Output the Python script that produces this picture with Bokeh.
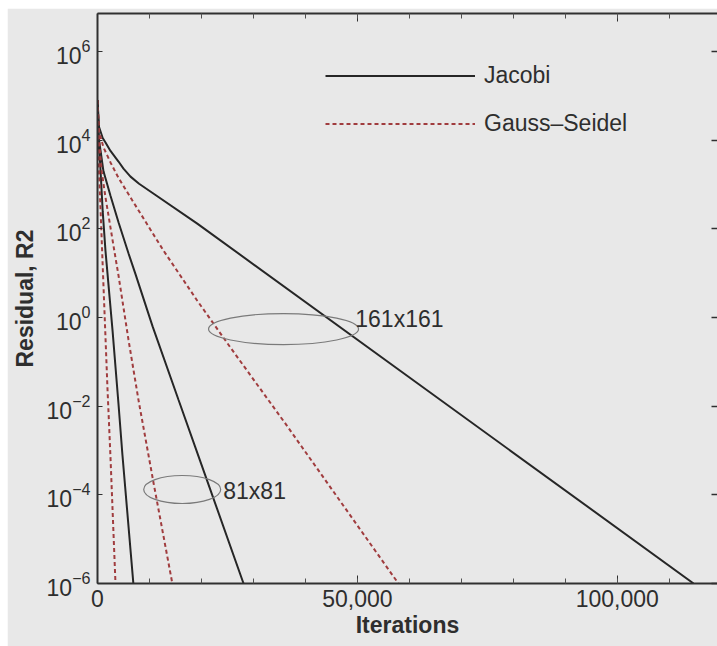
import numpy as np
from bokeh.plotting import figure
from bokeh.models import (Range1d, LinearAxis, LogAxis, FixedTicker, SingleIntervalTicker,
                          CustomJSTickFormatter, NumeralTickFormatter, Legend, LegendItem, Label)
from bokeh.embed import file_html
from bokeh.resources import INLINE

# ---- data (iterations, log10 of residual R2) ----
j41_iter = [0, 150, 500, 1000, 1540, 2900, 4040, 4800, 6900]
j41_log = [4.9, 4.0, 3.5, 2.4, 1.5, -0.3, -1.95, -3.1, -6.0]

gs41_iter = [0, 100, 300, 600, 960, 1920, 2500, 3460]
gs41_log = [4.9, 4.0, 3.3, 2.4, 1.29, -1.6, -3.16, -6.0]

j81_iter = [0, 300, 1150, 2500, 4040, 5960, 7310, 10600, 15600, 19800, 28100]
j81_log = [4.9, 4.0, 3.3, 2.75, 2.15, 1.45, 0.98, -0.2, -1.86, -3.25, -6.0]

gs81_iter = [0, 300, 800, 1540, 2500, 3460, 4040, 5960, 7900, 10800, 14400]
gs81_log = [4.9, 4.0, 3.3, 2.71, 2.03, 1.35, 0.95, -0.5, -1.87, -3.74, -6.0]

j161_iter = [0, 300, 1000, 1540, 2500, 4040, 5000, 6350, 8000, 10600, 19200, 114700]
j161_log = [4.9, 4.3, 4.05, 3.95, 3.76, 3.52, 3.36, 3.18, 3.02, 2.81, 2.12, -6.0]

gs161_iter = [0, 300, 1150, 2500, 4040, 6350, 12700, 19200, 25600, 36200, 57900]
gs161_log = [4.9, 4.2, 3.84, 3.5, 3.15, 2.71, 1.51, 0.38, -0.68, -2.4, -6.0]

y_ticks = [1e-6, 1e-4, 1e-2, 1e0, 1e2, 1e4, 1e6]
series_names = ["Jacobi", "Gauss\u2013Seidel"]
group_labels = ["161x161", "81x81"]


def res(logs):
    return [10.0 ** v for v in logs]


BG = "#e8e8e8"
TXT = "#2e2e2e"
FONT = "Liberation Sans"
J_COLOR = "#262626"
GS_COLOR = "#a03c3e"

p = figure(width=710, height=638, output_backend="svg", toolbar_location=None,
           y_axis_type="log",
           x_range=Range1d(0, 119300), y_range=Range1d(1e-6, 10 ** 6.86),
           min_border_left=90, min_border_right=0, min_border_top=5, min_border_bottom=63)
p.margin = (8, 0, 0, 7)
p.background_fill_color = BG
p.border_fill_color = BG
p.outline_line_color = None
p.grid.visible = False

# bottom axis
xa = p.xaxis[0]
xa.ticker = SingleIntervalTicker(interval=50000, num_minor_ticks=5)
xa.formatter = NumeralTickFormatter(format="0,0")
xa.major_tick_in = 8
xa.major_tick_out = 0
xa.minor_tick_in = 5
xa.minor_tick_out = 0
xa.axis_line_width = 2
xa.axis_line_color = "#303030"
xa.major_tick_line_color = "#303030"
xa.minor_tick_line_color = "#505050"
xa.major_label_standoff = 6
xa.major_label_text_font = FONT
xa.major_label_text_font_size = "23px"
xa.major_label_text_color = TXT
xa.axis_label = "Iterations"
xa.axis_label_standoff = 2
xa.axis_label_text_font = FONT
xa.axis_label_text_font_size = "23px"
xa.axis_label_text_font_style = "bold"
xa.axis_label_text_color = TXT

# left axis
ya = p.yaxis[0]
ya.ticker = FixedTicker(ticks=y_ticks, minor_ticks=[])
ya.major_tick_in = 5
ya.major_tick_out = 0
ya.minor_tick_line_color = None
ya.axis_line_width = 2
ya.axis_line_color = "#303030"
ya.major_tick_line_color = "#303030"
ya.major_label_standoff = 7
ya.major_label_text_font = FONT
ya.major_label_text_font_size = "23px"
ya.major_label_text_color = TXT
ya.axis_label = "Residual, R2"
ya.axis_label_standoff = 6
ya.axis_label_text_font = FONT
ya.axis_label_text_font_size = "23px"
ya.axis_label_text_font_style = "bold"
ya.axis_label_text_color = TXT

# top axis (ticks only)
top = LinearAxis(ticker=SingleIntervalTicker(interval=50000, num_minor_ticks=5),
                 formatter=CustomJSTickFormatter(code="return ''"),
                 major_tick_in=8, major_tick_out=0, minor_tick_in=5, minor_tick_out=0,
                 axis_line_width=2, axis_line_color="#303030",
                 major_tick_line_color="#303030", minor_tick_line_color="#505050",
                 major_label_standoff=0, major_label_text_font_size="1px")
p.add_layout(top, "above")

# right axis (ticks only)
right = LogAxis(ticker=FixedTicker(ticks=y_ticks, minor_ticks=[]),
                formatter=CustomJSTickFormatter(code="return ''"),
                major_tick_in=6, major_tick_out=0, minor_tick_line_color=None,
                axis_line_color=None, major_tick_line_color="#303030",
                major_tick_line_width=1.5,
                major_label_standoff=0, major_label_text_font_size="1px")
p.add_layout(right, "right")

# curves
jkw = dict(line_color=J_COLOR, line_width=2)
gkw = dict(line_color=GS_COLOR, line_width=2, line_dash="4 3")
r_j161 = p.line(j161_iter, res(j161_log), **jkw)
p.line(j81_iter, res(j81_log), **jkw)
p.line(j41_iter, res(j41_log), **jkw)
r_gs161 = p.line(gs161_iter, res(gs161_log), **gkw)
p.line(gs81_iter, res(gs81_log), **gkw)
p.line(gs41_iter, res(gs41_log), **gkw)

# ellipses marking the grid groups
p.ellipse(x=[35800], y=[0.55], width=150, height=31, width_units="screen", height_units="screen",
          fill_color=None, line_color="#7a7a7a", line_width=1.2)
p.ellipse(x=[16300], y=[1.32e-4], width=77, height=28, width_units="screen", height_units="screen",
          fill_color=None, line_color="#7a7a7a", line_width=1.2)

p.add_layout(Label(x=49600, y=0.91, text=group_labels[0], text_font=FONT,
                   text_font_size="23px", text_color=TXT, text_baseline="middle"))
p.add_layout(Label(x=24200, y=1.2e-4, text=group_labels[1], text_font=FONT,
                   text_font_size="23px", text_color=TXT, text_baseline="middle"))

# legend
legend = Legend(items=[LegendItem(label=series_names[0], renderers=[r_j161]),
                       LegendItem(label=series_names[1], renderers=[r_gs161])],
                location=(228, 446), glyph_width=150, glyph_height=27, label_height=27,
                spacing=21, padding=0, margin=0, label_standoff=9,
                border_line_color=None, background_fill_alpha=0,
                label_text_font=FONT, label_text_font_size="23px", label_text_color=TXT)
p.add_layout(legend, "center")

open("out.html", "w").write(file_html(p, INLINE))
